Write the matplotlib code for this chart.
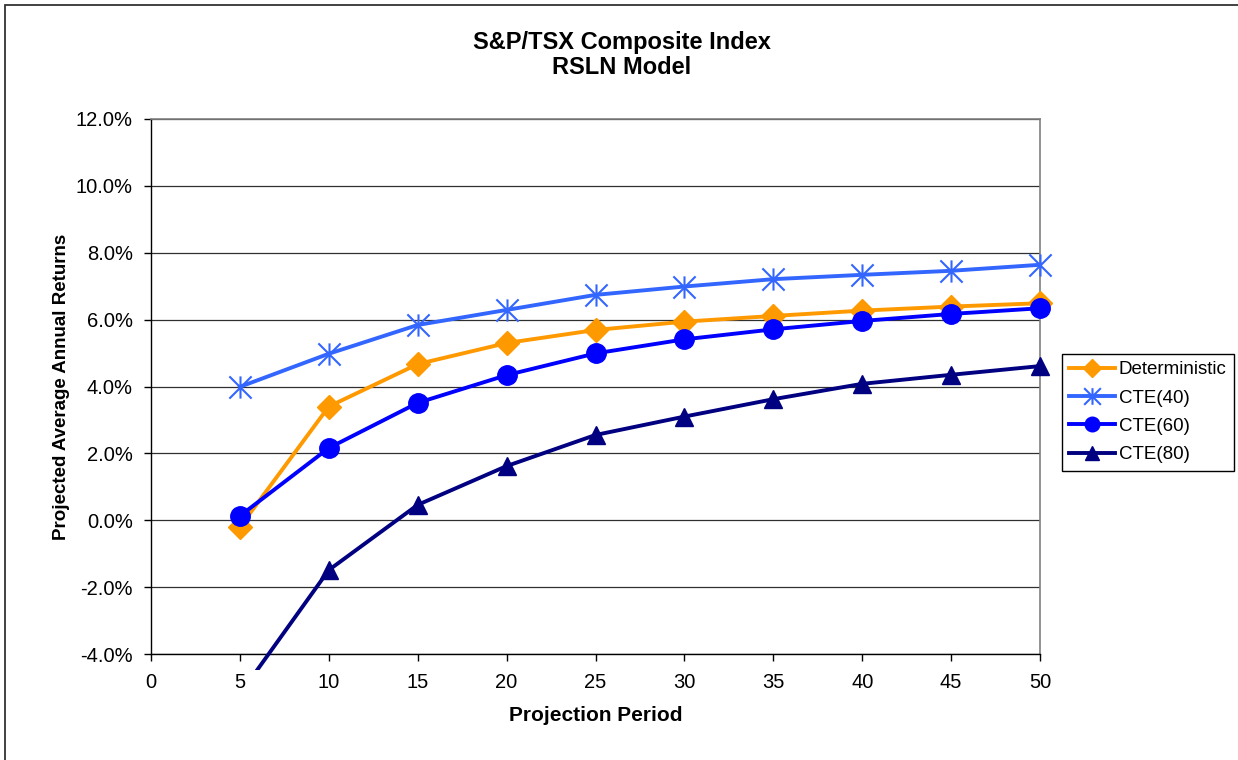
import matplotlib
matplotlib.use("Agg")
import matplotlib.pyplot as plt
from matplotlib.path import Path
from matplotlib.patches import Rectangle
from matplotlib.transforms import Bbox, TransformedBbox
from matplotlib.ticker import FuncFormatter, MultipleLocator

plt.rcParams['font.family'] = ['Liberation Sans', 'DejaVu Sans']

periods = [5, 10, 15, 20, 25, 30, 35, 40, 45, 50]
deterministic = [-0.20, 3.40, 4.67, 5.30, 5.69, 5.94, 6.11, 6.27, 6.39, 6.49]
cte40 = [3.99, 4.98, 5.84, 6.29, 6.74, 6.99, 7.21, 7.34, 7.46, 7.64]
cte60 = [0.13, 2.16, 3.51, 4.34, 4.99, 5.41, 5.71, 5.96, 6.17, 6.34]
cte80 = [-5.2, -1.49, 0.46, 1.62, 2.55, 3.10, 3.62, 4.08, 4.35, 4.61]

title = "S&P/TSX Composite Index\nRSLN Model"
xlabel = "Projection Period"
ylabel = "Projected Average Annual Returns"

W, H = 1238, 760
fig = plt.figure(figsize=(W / 100, H / 100), dpi=100)
fig.patch.set_facecolor('white')

# chart-area border (left and top visible)
fig.patches.append(Rectangle((5 / W, -0.1), 1.2, 1.1 - 5 / H, transform=fig.transFigure,
                             fill=False, edgecolor='#333333', linewidth=1.3))

ax = fig.add_axes([151 / W, 1 - 654 / H, (1040 - 151) / W, (654 - 119) / H])

star = Path([(0, -1), (0, 1), (-1, -1), (1, 1), (-1, 1), (1, -1)],
            [Path.MOVETO, Path.LINETO, Path.MOVETO, Path.LINETO, Path.MOVETO, Path.LINETO])

lw = 2.8
l1, = ax.plot(periods, deterministic, color='#FF9900', lw=lw, marker='D', ms=12,
              mec='#FF9900', mfc='#FF9900', label='Deterministic', zorder=4, clip_on=False)
l2, = ax.plot(periods, cte40, color='#3366FF', lw=lw, marker=star, ms=16,
              mec='#3366FF', mew=1.5, label='CTE(40)', zorder=3, clip_on=False)
l3, = ax.plot(periods, cte60, color='#0000FF', lw=lw, marker='o', ms=14,
              mec='#0000FF', mfc='#0000FF', label='CTE(60)', zorder=5, clip_on=False)
l4, = ax.plot(periods, cte80, color='#000080', lw=lw, marker='^', ms=13.5,
              mec='#000080', mfc='#000080', label='CTE(80)', zorder=5)
l4.set_clip_box(TransformedBbox(Bbox([[0, -16 / 535], [1.05, 1]]), ax.transAxes))

ax.set_xlim(0, 50)
ax.set_ylim(-4, 12)
ax.xaxis.set_major_locator(MultipleLocator(5))
ax.yaxis.set_major_locator(MultipleLocator(2))
ax.yaxis.set_major_formatter(FuncFormatter(lambda v, p: f"{v:.1f}%"))

ax.grid(axis='y', color='#303030', linewidth=0.9, zorder=1)
ax.set_axisbelow(True)

for s in ['top', 'right']:
    ax.spines[s].set_color('#808080')
    ax.spines[s].set_linewidth(1.2)
for s in ['left', 'bottom']:
    ax.spines[s].set_color('black')
    ax.spines[s].set_linewidth(1.0)

ax.tick_params(axis='both', direction='out', length=5, width=1, color='black',
               labelsize=14.5)
ax.tick_params(axis='x', pad=9)
ax.tick_params(axis='y', pad=8)

ax.set_xlabel(xlabel, fontsize=15, fontweight='bold', labelpad=10)
ax.set_ylabel(ylabel, fontsize=13.5, fontweight='bold', labelpad=4)

fig.text(0.502, 1 - 55 / H, title, ha='center', va='center', fontsize=17,
         fontweight='bold', linespacing=1.1)

leg = fig.legend(handles=[l1, l2, l3, l4], loc='upper left',
                 bbox_to_anchor=(1062 / W, 1 - 354 / H), fontsize=13.5,
                 frameon=True, fancybox=False, edgecolor='black', framealpha=1,
                 handlelength=2.45, handletextpad=0.2, labelspacing=0.6,
                 borderpad=0.38, borderaxespad=0, markerscale=0.75)
leg.get_frame().set_linewidth(1.0)

fig.savefig('out.png', dpi=100, facecolor='white')
